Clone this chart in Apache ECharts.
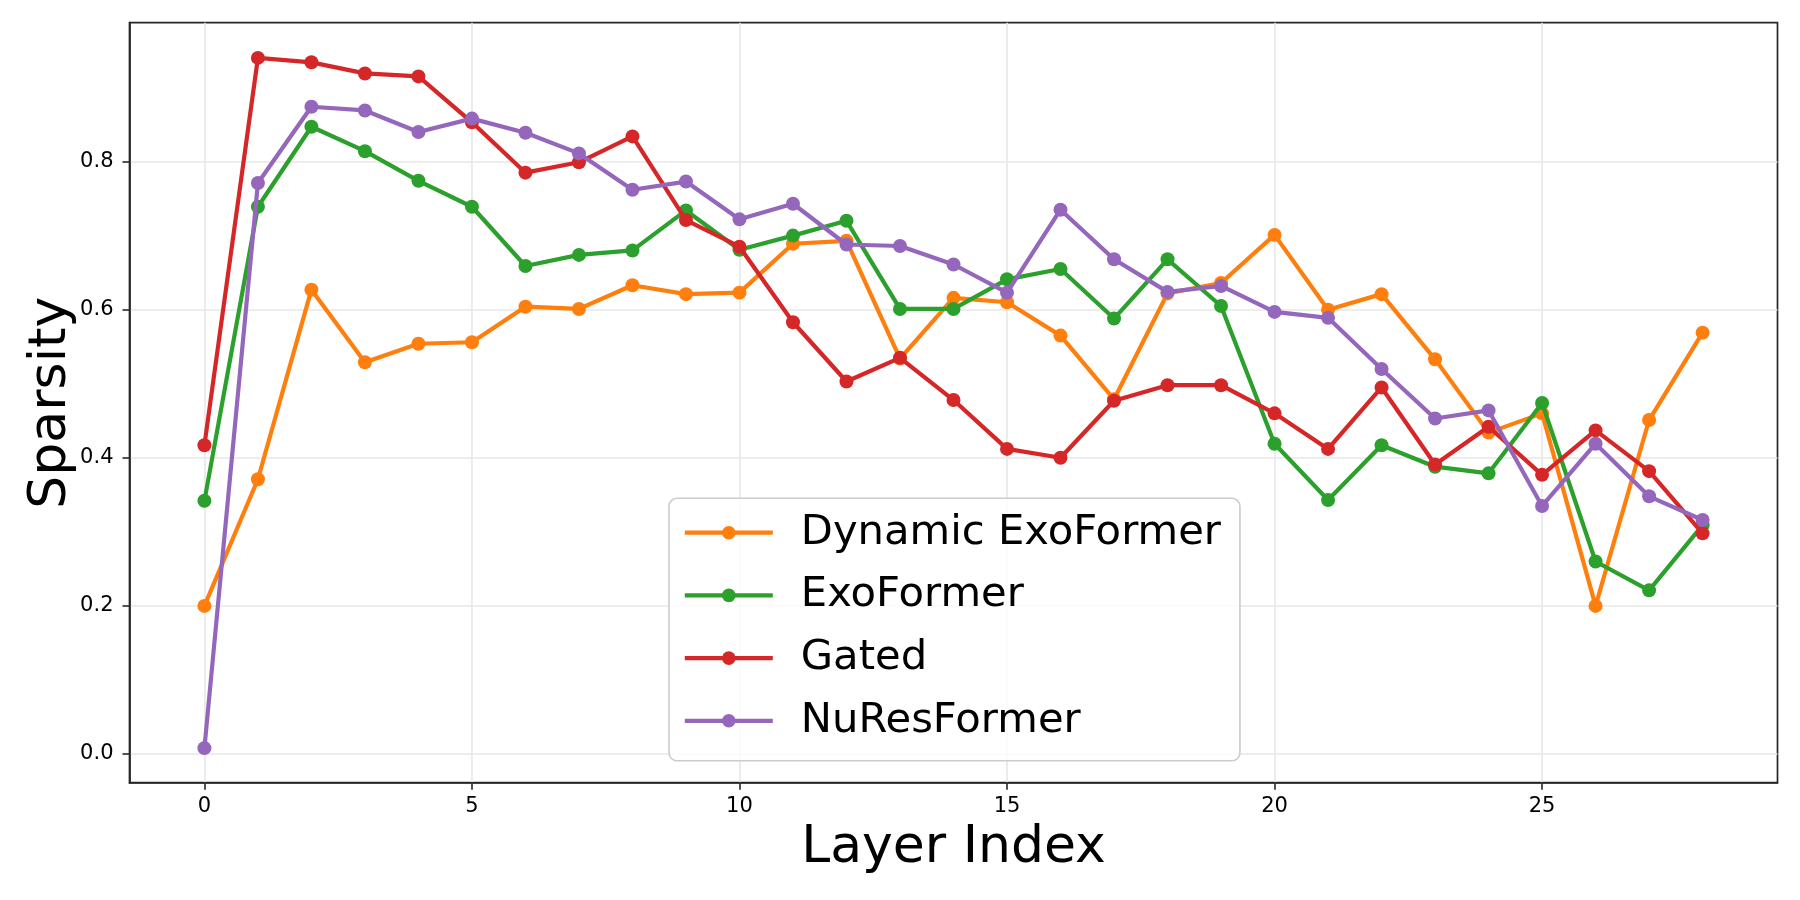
<!DOCTYPE html>
<html>
<head>
<meta charset="utf-8">
<script src="https://cdn.jsdelivr.net/npm/echarts@6/dist/echarts.min.js"></script>
<style>
html,body{margin:0;padding:0;background:#fff;}
#chart{width:1800px;height:900px;}
</style>
</head>
<body>
<div id="chart"></div>
<script>
const layers = [0,1,2,3,4,5,6,7,8,9,10,11,12,13,14,15,16,17,18,19,20,21,22,23,24,25,26,27,28];
const seriesNames = ['Dynamic ExoFormer','ExoFormer','Gated','NuResFormer'];
const dynamicExoFormer = [0.200,0.371,0.627,0.529,0.554,0.556,0.604,0.601,0.633,0.621,0.623,0.689,0.693,0.534,0.616,0.610,0.565,0.479,0.622,0.636,0.701,0.600,0.621,0.533,0.434,0.460,0.200,0.451,0.569];
const exoFormer = [0.342,0.739,0.847,0.814,0.774,0.739,0.659,0.674,0.680,0.734,0.681,0.700,0.720,0.601,0.601,0.641,0.655,0.588,0.668,0.605,0.419,0.343,0.417,0.388,0.379,0.474,0.260,0.221,0.309];
const gated = [0.417,0.940,0.934,0.919,0.915,0.853,0.785,0.799,0.834,0.721,0.685,0.583,0.503,0.535,0.478,0.412,0.400,0.477,0.498,0.498,0.460,0.412,0.495,0.391,0.442,0.377,0.437,0.382,0.298];
const nuResFormer = [0.008,0.771,0.874,0.869,0.840,0.858,0.839,0.811,0.762,0.773,0.722,0.743,0.688,0.686,0.661,0.623,0.735,0.668,0.624,0.632,0.597,0.589,0.520,0.453,0.464,0.335,0.419,0.348,0.316];
const xTicks = [0,5,10,15,20,25];
const yTicks = [0.0,0.2,0.4,0.6,0.8];
const colors = ['#ff7f0e','#2ca02c','#d62728','#9467bd'];
const xLabel = 'Layer Index';
const yLabel = 'Sparsity';

const allSeries = [dynamicExoFormer, exoFormer, gated, nuResFormer];
const font = 'DejaVu Sans';

const chart = echarts.init(document.getElementById('chart'), null, {renderer:'canvas'});
chart.setOption({
  animation:false,
  backgroundColor:'#ffffff',
  color: colors,
  grid:{left:129.5, right:22.5, top:22.7, bottom:117.3, show:true, borderColor:'#262626', borderWidth:1.7, backgroundColor:'transparent'},
  xAxis:{
    type:'value', min:-1.4, max:29.4,
    name:xLabel, nameLocation:'middle', nameGap:40, nameMoveOverlap:false,
    nameTextStyle:{fontFamily:font, fontSize:52, color:'#000'},
    axisLine:{show:true, onZero:false, lineStyle:{color:'#262626', width:1.7}},
    axisTick:{show:true, length:7, lineStyle:{color:'#262626', width:1.6}, customValues:xTicks},
    axisLabel:{fontFamily:font, fontSize:21, color:'#000', margin:13, customValues:xTicks, formatter:v=>String(v)},
    splitLine:{show:true, lineStyle:{color:'#e7e7e7', width:1.6}}
  },
  yAxis:{
    type:'value', min:-0.0387, max:0.9875,
    name:yLabel, nameLocation:'middle', nameGap:52, nameRotate:90, nameMoveOverlap:false,
    nameTextStyle:{fontFamily:font, fontSize:52, color:'#000'},
    axisLine:{show:true, onZero:false, lineStyle:{color:'#262626', width:1.7}},
    axisTick:{show:true, length:7, lineStyle:{color:'#262626', width:1.6}, customValues:yTicks},
    axisLabel:{fontFamily:font, fontSize:21, color:'#000', margin:16, customValues:yTicks, formatter:v=>v.toFixed(1)},
    splitLine:{show:true, lineStyle:{color:'#e7e7e7', width:1.6}}
  },
  legend:{
    orient:'vertical', left:669, top:498.3,
    itemWidth:88, itemHeight:17, itemGap:20.7,
    padding:[13.4, 19, 19, 13.7],
    backgroundColor:'rgba(255,255,255,0.8)', borderColor:'#cccccc', borderWidth:1.6, borderRadius:8,
    lineStyle:{width:4.2},
    textStyle:{fontFamily:font, fontSize:41.7, color:'#000', lineHeight:42, padding:[0,0,0,23]},
    data: seriesNames
  },
  series: seriesNames.map((n,i)=>({
    name:n, type:'line',
    data: layers.map((x,j)=>[x, allSeries[i][j]]),
    symbol:'circle', symbolSize:14, showSymbol:true,
    lineStyle:{width:4.2, color:colors[i]},
    itemStyle:{color:colors[i]},
    z: 2+i
  }))
});
</script>
</body>
</html>
